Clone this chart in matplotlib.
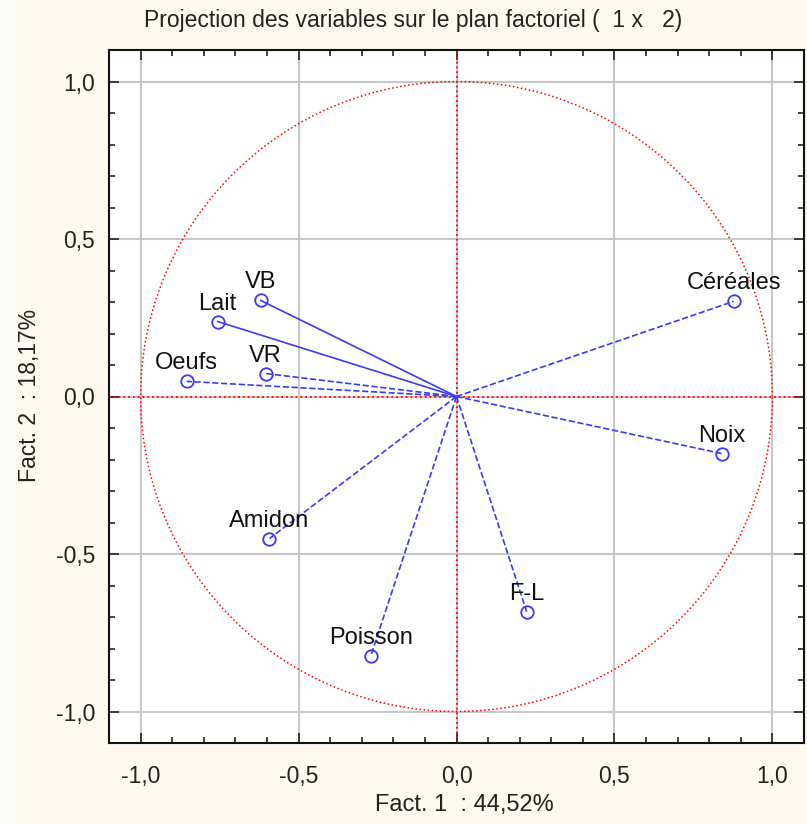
import matplotlib.pyplot as plt
import matplotlib.patches as mpatches
import numpy as np
from matplotlib.ticker import MultipleLocator, FuncFormatter

# coordonnees des variables (Fact. 1, Fact. 2)
variables = ['Céréales', 'Noix', 'F-L', 'Poisson', 'Amidon', 'Oeufs', 'VR', 'Lait', 'VB']
fact1 = [0.877, 0.839, 0.222, -0.272, -0.592, -0.854, -0.604, -0.756, -0.620]
fact2 = [0.302, -0.181, -0.683, -0.825, -0.451, 0.048, 0.073, 0.238, 0.305]
styles = ['--', '--', '--', '--', '--', '--', '--', '-', '-']

plt.rcParams['font.family'] = ['Liberation Sans', 'DejaVu Sans']

fig = plt.figure(figsize=(8.07, 8.24), dpi=100, facecolor='#fef9ee')
fig.patches.append(mpatches.Rectangle((0, 0), 15/807, 1, transform=fig.transFigure,
                                      color='#fbfbfa', zorder=0))
ax = fig.add_axes([109/807, 1 - 743/824, 695/807, 693/824])
ax.set_facecolor('white')

# cercle des correlations
t = np.linspace(0, 2*np.pi, 400)
ax.plot(np.cos(t), np.sin(t), color='red', ls=':', lw=1.1, zorder=2)
ax.axhline(0, color='red', ls=':', lw=1.3, zorder=2)
ax.axvline(0, color='red', ls=':', lw=1.3, zorder=2)

for name, x, y, s in zip(variables, fact1, fact2, styles):
    ax.plot([0, x], [0, y], color='#3a3af0', ls=s, lw=1.2, zorder=3)
    ax.plot(x, y, 'o', mfc='none', mec='#3a3af0', ms=9, mew=1.3, zorder=4)
    ax.annotate(name, (x, y), xytext=(0, 5), textcoords='offset points',
                ha='center', va='bottom', fontsize=17, color='#111111', zorder=5)

ax.set_xlim(-1.1, 1.1)
ax.set_ylim(-1.1, 1.1)
for a in (ax.xaxis, ax.yaxis):
    a.set_major_locator(MultipleLocator(0.5))
    a.set_minor_locator(MultipleLocator(0.1))
    a.set_major_formatter(FuncFormatter(lambda v, p: ('%.1f' % v).replace('.', ',')))
ax.grid(True, which='major', color='#c8c8c8', lw=1.5, zorder=1)
ax.set_axisbelow(True)
ax.tick_params(which='both', direction='in', top=True, right=True, labelsize=16.5,
               colors='#222222', width=1.2)
ax.tick_params(which='major', length=7)
ax.tick_params(which='minor', length=4)
ax.tick_params(axis='x', which='major', pad=16)
ax.tick_params(axis='y', which='major', pad=10)
for sp in ax.spines.values():
    sp.set_linewidth(1.5)
    sp.set_color('#111111')

fig.text(413/807, 1 - 20/824, 'Projection des variables sur le plan factoriel (  1 x   2)',
         ha='center', va='center', fontsize=16.5, color='#222222')
fig.text(464/807, 1 - 805/824, 'Fact. 1  : 44,52%', ha='center', va='center',
         fontsize=17, color='#222222')
fig.text(30/807, 1 - 395/824, 'Fact. 2  : 18,17%', ha='center', va='center',
         rotation=90, fontsize=16.5, color='#222222')

fig.savefig('out.png', dpi=100, facecolor=fig.get_facecolor())
